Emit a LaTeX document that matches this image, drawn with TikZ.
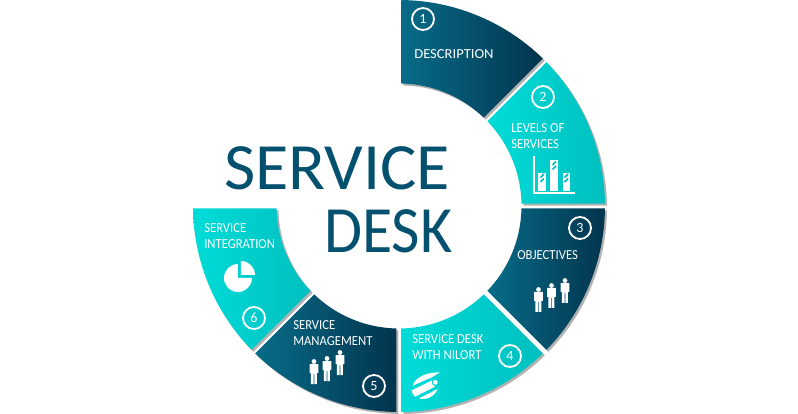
\documentclass[tikz,border=0pt]{standalone}
\usepackage{fontspec}
\setmainfont{Carlito}
\usetikzlibrary{shadows}
\definecolor{deskblue}{HTML}{04506F}
\definecolor{petrol}{HTML}{086C88}
\definecolor{petroldark}{HTML}{02344E}
\definecolor{aqua}{HTML}{00DCD8}
\definecolor{aquadark}{HTML}{00BFC0}
\tikzset{
    petal/.style={drop shadow={shadow xshift=2*0.025cm,shadow yshift=-2*0.025cm,fill=black,opacity=0.3}},
    badge/.style={circle,draw=white,line width=1.3pt,minimum size=0.55cm,inner sep=0pt,text=white,font=\fontsize{10}{10}\selectfont},
    caption/.style={anchor=west,align=left,text=white,inner sep=0pt,xscale=0.92,font=\fontsize{9.8}{11.2}\selectfont},
    headline/.style={anchor=base west,inner sep=0pt,text=deskblue,font=\fontsize{47}{47}\selectfont},
    pics/worker/.style={code={
        \fill[white] (0,9.5) circle (2.4);
        \fill[white] (-4.3,7) -- (4.3,7) -- (4.3,-2) -- (3,-2) -- (3,-13) -- (0.35,-13) -- (0.35,-3)
            -- (-0.35,-3) -- (-0.35,-13) -- (-3,-13) -- (-3,-2) -- (-4.3,-2) -- cycle;
    }}
}
\begin{document}
\begin{tikzpicture}[x=0.025cm,y=0.025cm]
    \useasboundingbox (-399,-208) rectangle (399,206);
    % the six petals, going clockwise from the top
    \foreach \lo/\hi/\left/\right in {45/90/petrol/petroldark,0/45/aqua/aquadark,-45/0/petrol/petroldark,
            -90/-45/aqua/aquadark,-135/-90/petrol/petroldark,-180/-135/aqua/aquadark}{
        \pgfmathsetmacro{\outgap}{asin(2.5/206)}
        \pgfmathsetmacro{\ingap}{asin(2.5/122.5)}
        \path[petal,left color=\left,right color=\right]
            (\lo+\outgap:206) arc[start angle=\lo+\outgap,end angle=\hi-\outgap,radius=206]
            -- (\hi-\ingap:122.5) arc[start angle=\hi-\ingap,end angle=\lo+\ingap,radius=122.5] -- cycle;
    }
    \node[badge] (one) at (24,187) {1};
    \node[badge] (two) at (144,109) {2};
    \node[badge] (three) at (181,-22) {3};
    \node[badge] (four) at (111,-150) {4};
    \node[badge] (five) at (-25,-180) {5};
    \node[badge] (six) at (-145,-112) {6};
    \node[caption,xscale=1.15] (description) at (15,152) {DESCRIPTION};
    \node[caption] (levels) at (112,70) {LEVELS OF\\SERVICES};
    \node[caption] (objectives) at (118,-49) {OBJECTIVES};
    \node[caption] (nilort) at (13,-141) {SERVICE DESK\\WITH NILORT};
    \node[caption] (management) at (-106,-127) {SERVICE\\MANAGEMENT};
    \node[caption] (integration) at (-195,-30) {SERVICE\\INTEGRATION};
    \node[headline,xscale=1.03] (service) at (-175,16) {SERVICE};
    \node[headline,xscale=0.935] (desk) at (-75,-47) {DESK};
    % bar chart
    \draw[white,line width=1.1pt] (135,49.5) -- (135,13) -- (176,13);
    \foreach \x/\top in {139.5/33,151.5/45.5,163.7/33}{
        \fill[white] (\x,15) rectangle (\x+7.4,\top);
        \foreach \y in {0,4.5}
            \draw[aquadark,line width=1.2pt] (\x+2,\top-9+\y) -- (\x+5.4,\top-5.5+\y);
    }
    % people
    \path (139.5,-93) pic {worker} (152.5,-89) pic {worker} (166,-84) pic {worker};
    \path (-85,-165) pic {worker} (-72,-162) pic {worker} (-59,-156) pic {worker};
    % pie
    \fill[white] (-161,-72) -- (-161,-58) arc[start angle=90,end angle=360,radius=14] -- cycle;
    \fill[white] (-158,-69) -- (-158,-55) arc[start angle=90,end angle=0,radius=14] -- cycle;
    % logo
    \begin{scope}[shift={(6,-159)},x=0.025cm/3,y=-0.025cm/3]
        \fill[white] (23,62) .. controls (32,35) and (65,22) .. (105,22) .. controls (90,30) and (85,36) .. (78,38) -- cycle;
        \fill[white] (20,76) -- (82,46) .. controls (78,55) and (82,62) .. (90,65) -- (30,95) .. controls (24,90) and (21,84) .. (20,76) -- cycle;
        \fill[white] (42,100) -- (98,72) .. controls (90,92) and (65,108) .. (42,100) -- cycle;
        \fill[white] (91,52) circle (7);
    \end{scope}
\end{tikzpicture}
\end{document}
